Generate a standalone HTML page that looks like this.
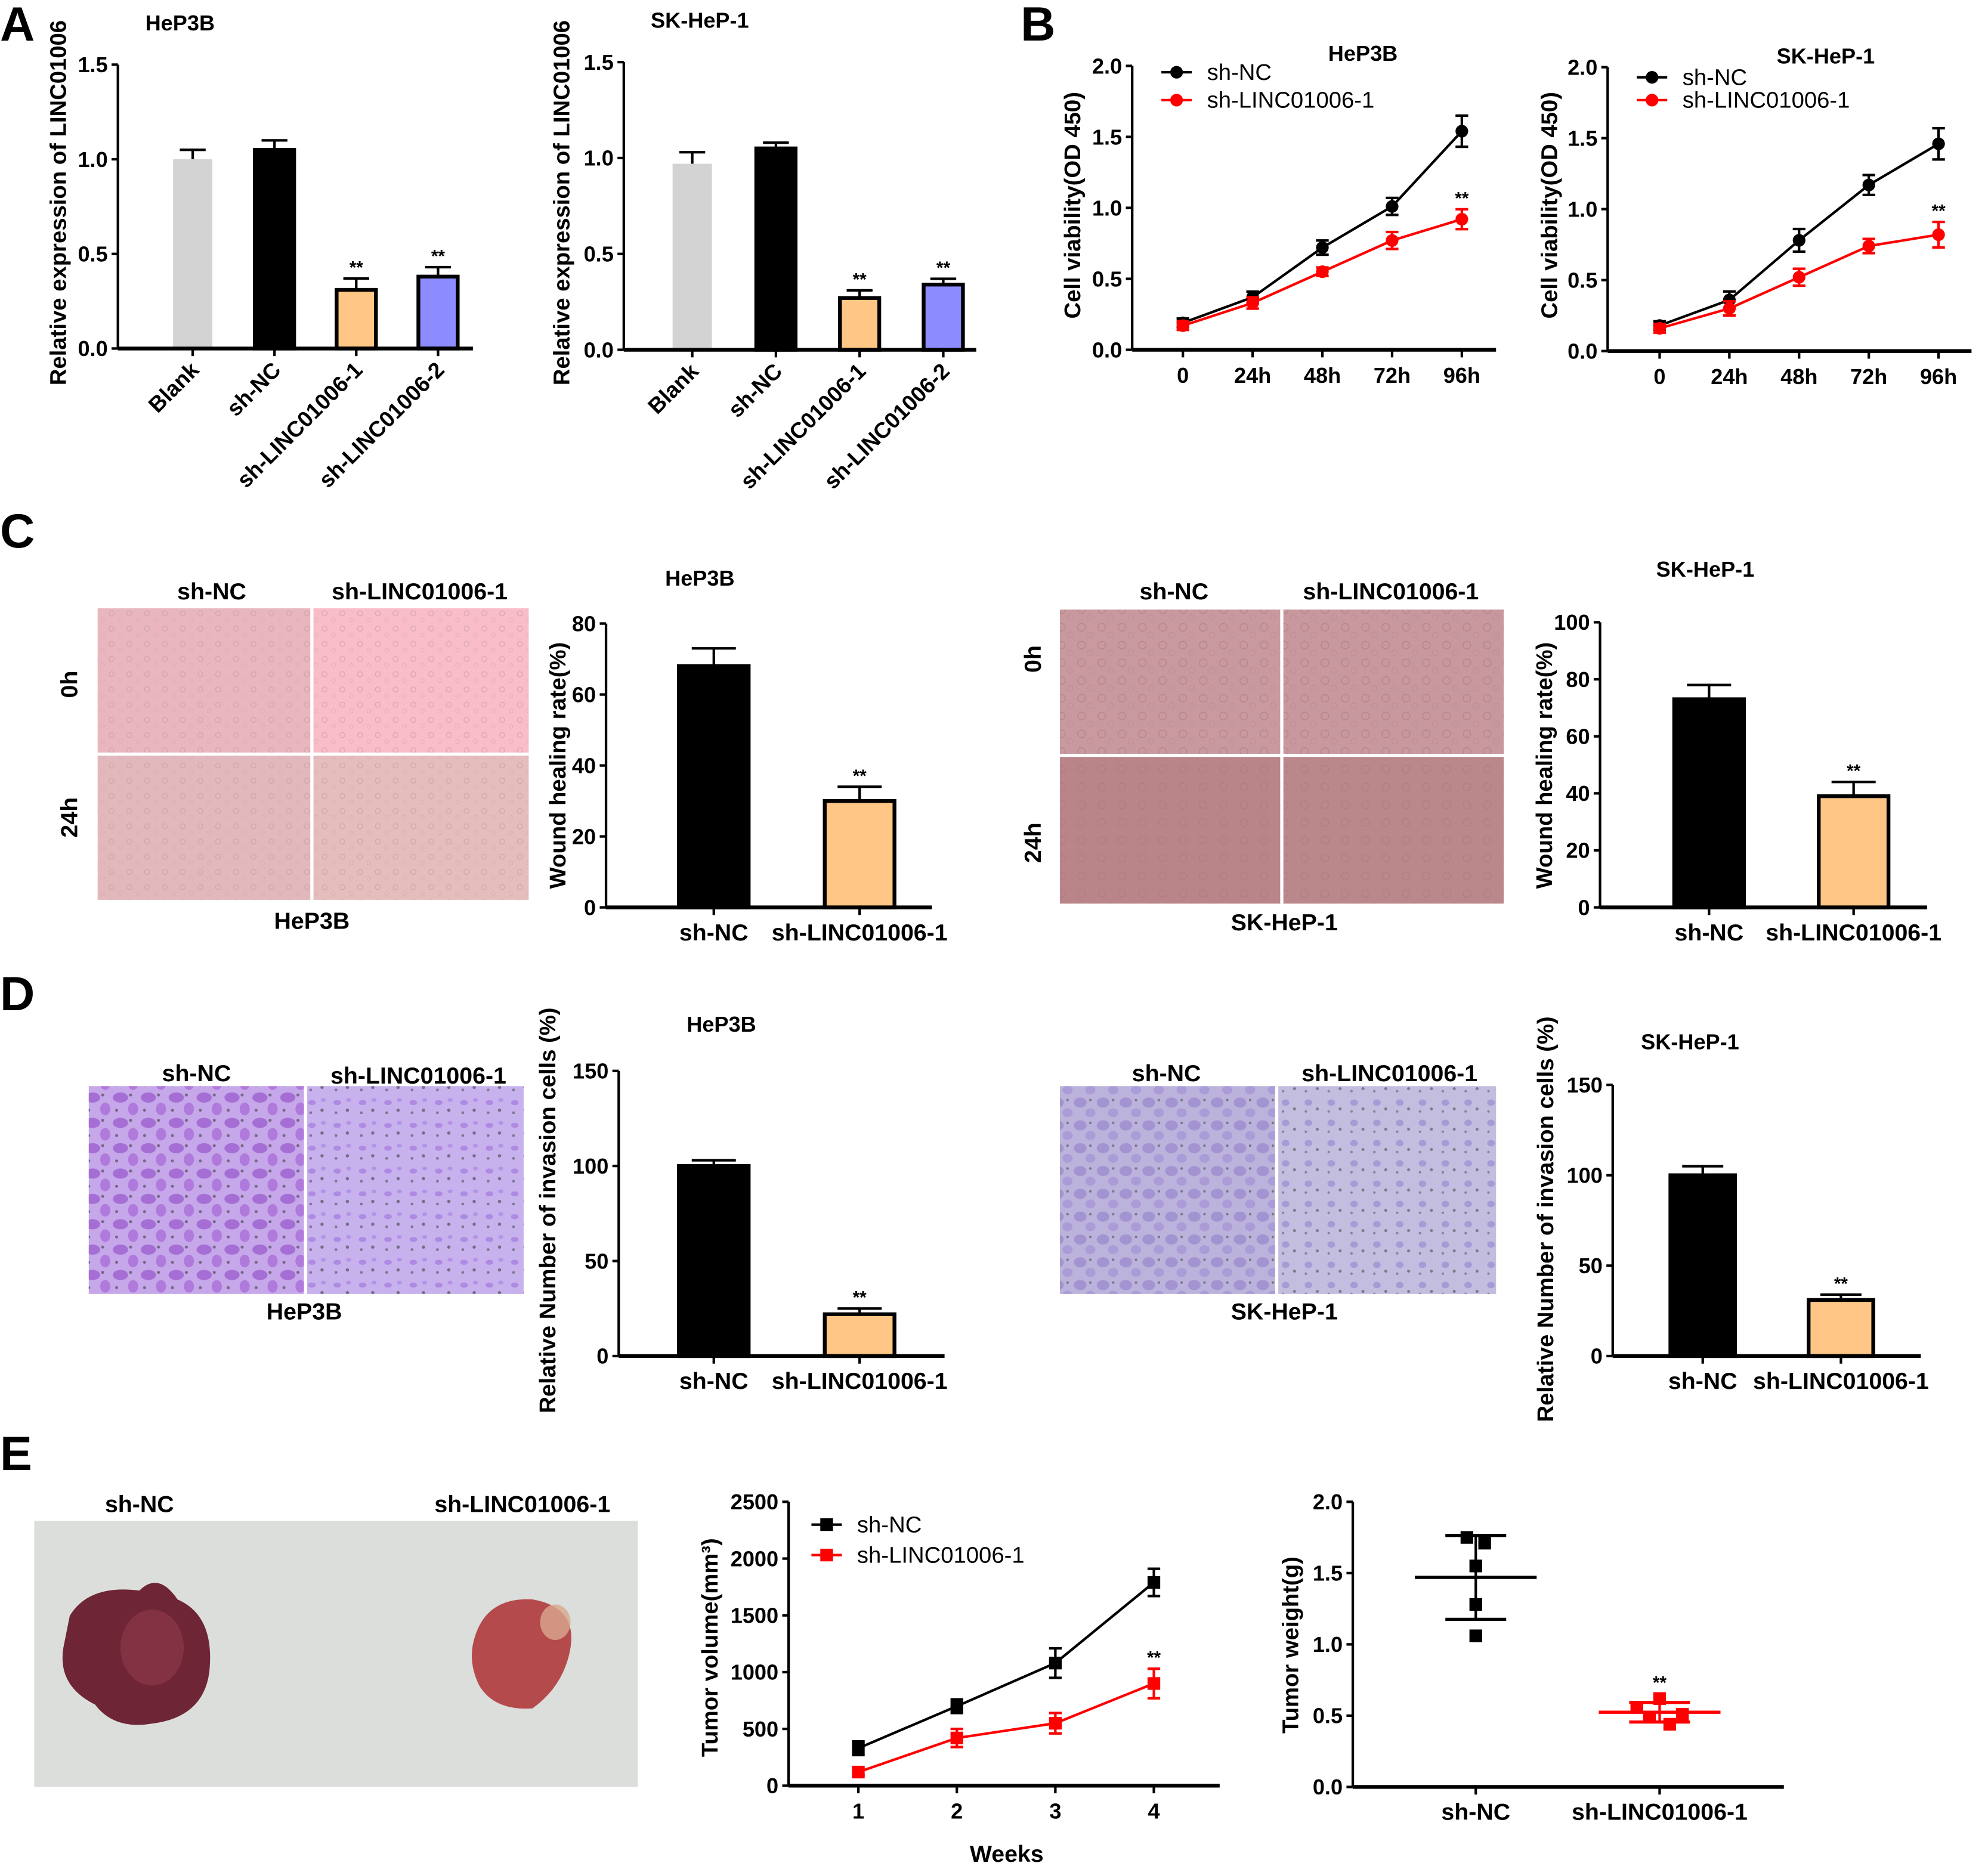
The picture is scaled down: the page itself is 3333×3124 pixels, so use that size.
<!DOCTYPE html>
<html><head><meta charset="utf-8">
<style>
html,body{margin:0;padding:0;background:#fff;}
svg{display:block;}
text{font-family:"Liberation Sans",Arial,sans-serif;font-weight:bold;fill:#000;}
</style></head>
<body>
<svg id="fig" xmlns="http://www.w3.org/2000/svg" width="3333" height="3124" viewBox="0 0 1568 1470" preserveAspectRatio="none">
<defs>
<pattern id="cellsA" width="14" height="12" patternUnits="userSpaceOnUse"><circle cx="4" cy="4" r="2" fill="none" stroke="#b99" stroke-width="0.6"/><circle cx="11" cy="9" r="1.6" fill="none" stroke="#caa" stroke-width="0.5"/></pattern>
<pattern id="cellsB" width="16" height="14" patternUnits="userSpaceOnUse"><circle cx="5" cy="5" r="3" fill="none" stroke="#a77" stroke-width="0.7"/><circle cx="12" cy="11" r="2.2" fill="none" stroke="#b88" stroke-width="0.6"/></pattern>
<pattern id="purpA" width="22" height="20" patternUnits="userSpaceOnUse"><ellipse cx="7" cy="6" rx="6" ry="4" fill="#8a3fc4"/><ellipse cx="17" cy="15" rx="4" ry="5" fill="#9c55cf"/><circle cx="15" cy="4" r="1.2" fill="#333"/><circle cx="4" cy="16" r="1.2" fill="#333"/></pattern>
<pattern id="purpB" width="20" height="18" patternUnits="userSpaceOnUse"><ellipse cx="6" cy="6" rx="3" ry="2" fill="#9a6ad8"/><circle cx="14" cy="12" r="1.3" fill="#333"/><circle cx="5" cy="14" r="1.1" fill="#444"/><ellipse cx="15" cy="4" rx="2" ry="1.5" fill="#a57ae0"/></pattern>
<pattern id="purpC" width="18" height="18" patternUnits="userSpaceOnUse"><ellipse cx="6" cy="6" rx="5" ry="4" fill="#8e7bc8"/><ellipse cx="14" cy="14" rx="4" ry="3.5" fill="#9d88d2"/><circle cx="14" cy="4" r="1" fill="#444"/></pattern>
<pattern id="purpD" width="18" height="16" patternUnits="userSpaceOnUse"><ellipse cx="6" cy="6" rx="3" ry="2.5" fill="#8f7fcc"/><circle cx="13" cy="11" r="1.2" fill="#444"/><circle cx="4" cy="13" r="1" fill="#555"/></pattern>
</defs>
</svg>
<script>
// ---------- DATA ----------
const catsA = ["Blank","sh-NC","sh-LINC01006-1","sh-LINC01006-2"];
const valsA1 = [1.0, 1.05, 0.31, 0.38];
const errsA1 = [0.05, 0.05, 0.06, 0.05];
const valsA2 = [0.97, 1.05, 0.27, 0.34];
const errsA2 = [0.06, 0.03, 0.04, 0.03];
const sigA = ["", "", "**", "**"];
const ticksA = [0, 0.5, 1.0, 1.5];

const timeCats = ["0","24h","48h","72h","96h"];
const ncB1 = [0.19, 0.37, 0.72, 1.01, 1.54];
const ncB1err = [0.03, 0.04, 0.05, 0.06, 0.11];
const shB1 = [0.17, 0.33, 0.55, 0.77, 0.92];
const shB1err = [0.03, 0.04, 0.03, 0.06, 0.07];
const ncB2 = [0.18, 0.36, 0.78, 1.17, 1.46];
const ncB2err = [0.03, 0.06, 0.08, 0.07, 0.11];
const shB2 = [0.16, 0.30, 0.52, 0.74, 0.82];
const shB2err = [0.03, 0.05, 0.06, 0.05, 0.09];
const ticksB = [0, 0.5, 1.0, 1.5, 2.0];

const cats2 = ["sh-NC","sh-LINC01006-1"];
const valsC1 = [68, 30];
const errsC1 = [5, 4];
const ticksC1 = [0, 20, 40, 60, 80];
const valsC2 = [73, 39];
const errsC2 = [5, 5];
const ticksC2 = [0, 20, 40, 60, 80, 100];
const valsD1 = [100, 22];
const errsD1 = [3, 3];
const valsD2 = [100, 31];
const errsD2 = [5, 3];
const ticksD = [0, 50, 100, 150];
const sig2 = ["", "**"];

const weekCats = ["1","2","3","4"];
const ncVol = [330, 700, 1080, 1790];
const ncVolErr = [60, 60, 130, 120];
const shVol = [120, 420, 550, 900];
const shVolErr = [30, 80, 90, 130];
const ticksVol = [0, 500, 1000, 1500, 2000, 2500];

const ncWeight = [1.75, 1.71, 1.55, 1.28, 1.06];
const shWeight = [0.62, 0.56, 0.51, 0.49, 0.44];
const ticksW = [0, 0.5, 1.0, 1.5, 2.0];

// ---------- HELPERS ----------
const svg = document.getElementById('fig');
const NS = "http://www.w3.org/2000/svg";
const FT = 17, FL = 18.5, FTI = 17, FY = 18;
function mk(tag, attrs, parent){
  const e = document.createElementNS(NS, tag);
  for (const k in attrs) e.setAttribute(k, attrs[k]);
  (parent||svg).appendChild(e);
  return e;
}
function txt(x, y, s, size, anchor, parent, rot){
  const t = mk('text', {x:x, y:y, 'font-size':size, 'text-anchor':anchor||'middle'}, parent);
  if (rot) t.setAttribute('transform', 'rotate(' + rot + ' ' + x + ' ' + y + ')');
  t.textContent = s;
  return t;
}
function fmt(v, dec){ return dec ? v.toFixed(dec) : String(v); }

function yAxis(g, cfg, ticks, sc){
  const ax = mk('line', {x1:cfg.ax, x2:cfg.ax, y1:sc(ticks[ticks.length-1]), y2:cfg.y0, stroke:'#000','stroke-width':2}, g);
  
  
  ticks.forEach(v=>{
    const y = sc(v);
    const tk = mk('line', {x1:cfg.ax-5, x2:cfg.ax, y1:y, y2:y, stroke:'#000','stroke-width':2}, g);
    
    
    const tl = txt(cfg.ax-8, y+6, fmt(v, cfg.dec), FT, 'end', g);
    
    
  });
  const yl = txt(cfg.ylx, cfg.yly, cfg.ylabel, FY, 'middle', g, -90);
  
  
}
function xAxisLine(g, cfg){
  const xl = mk('line', {x1:cfg.ax, x2:cfg.xEnd, y1:cfg.y0, y2:cfg.y0, stroke:'#000','stroke-width':3}, g);
  
  
}
function title(g, cfg){
  const t = txt(cfg.tx, cfg.ty, cfg.title, FTI, 'middle', g);
  
  
}

function barChart(name, cfg, cats, vals, errs, colors, sig, ticks){
  const g = mk('g', {});
  
  
  const top = ticks[ticks.length-1];
  const sc = v => cfg.y0 - (v / top) * (cfg.y0 - cfg.yTop);
  const xs = i => cfg.x0 + i * cfg.step;
  title(g, cfg);
  yAxis(g, cfg, ticks, sc);
  cats.forEach((c,i)=>{
    const x = xs(i), w = cfg.bw, y = sc(vals[i]);
    const ye = sc(vals[i] + errs[i]);
    const el = mk('line', {x1:x, x2:x, y1:ye, y2:y, stroke:'#000','stroke-width':2}, g);
    
    
    const cap = mk('line', {x1:x-w*0.3, x2:x+w*0.3, y1:ye, y2:ye, stroke:'#000','stroke-width':2}, g);
    
    
    const col = colors[i];
    const stroke = col === '#d3d3d3' ? 'none' : '#000';
    const b = mk('rect', {x:x-w/2+1.5, y:y, width:w-3, height:cfg.y0-y, fill:col, stroke:stroke, 'stroke-width':3}, g);
    
    
    if (sig[i]) {
      const s = txt(x, ye-4, sig[i], 14, 'middle', g);
      
      
    }
    const tk = mk('line', {x1:x, x2:x, y1:cfg.y0, y2:cfg.y0+6, stroke:'#000','stroke-width':2}, g);
    
    
    let lab;
    if (cfg.rot) lab = txt(x+6, cfg.y0+18, c, 17.5, 'end', g, -45);
    else lab = txt(x, cfg.y0+26, c, FL, 'middle', g);
    
    
  });
  xAxisLine(g, cfg);
}

function marker(g, x, y, col, shape){
  let m;
  if (shape === 'sq') m = mk('rect', {x:x-5, y:y-5, width:10, height:10, fill:col}, g);
  else m = mk('circle', {cx:x, cy:y, r:5, fill:col}, g);
  return m;
}

function lineChart(name, cfg, cats, series, ticks){
  const g = mk('g', {});
  
  
  const top = ticks[ticks.length-1];
  const sc = v => cfg.y0 - (v / top) * (cfg.y0 - cfg.yTop);
  const xs = i => cfg.x0 + i * cfg.step;
  if (cfg.title) title(g, cfg);
  yAxis(g, cfg, ticks, sc);
  xAxisLine(g, cfg);
  cats.forEach((c,i)=>{
    const tk = mk('line', {x1:xs(i), x2:xs(i), y1:cfg.y0, y2:cfg.y0+6, stroke:'#000','stroke-width':2}, g);
    
    
    const tl = txt(xs(i), cfg.y0+26, c, FT, 'middle', g);
    
    
  });
  series.forEach((s, si)=>{
    const pts = s.vals.map((v,i)=> xs(i) + ',' + sc(v)).join(' ');
    const pl = mk('polyline', {points:pts, fill:'none', stroke:s.color, 'stroke-width':2}, g);
    
    
    s.vals.forEach((v,i)=>{
      const x = xs(i);
      const e = mk('line', {x1:x, x2:x, y1:sc(v+s.errs[i]), y2:sc(v-s.errs[i]), stroke:s.color, 'stroke-width':2}, g);
      
      
      [v+s.errs[i], v-s.errs[i]].forEach(ev=>{
        const cp = mk('line', {x1:x-5, x2:x+5, y1:sc(ev), y2:sc(ev), stroke:s.color, 'stroke-width':2}, g);
        
        
      });
      const m = marker(g, x, sc(v), s.color, cfg.shape);
      
      
    });
    if (s.sig) {
      const li = s.vals.length-1;
      const st = txt(xs(li), sc(s.vals[li]+s.errs[li])-4, '**', 14, 'middle', g);
      
      
    }
    const ly = cfg.legY + si * cfg.legDy;
    const ll = mk('line', {x1:cfg.legX-12, x2:cfg.legX+12, y1:ly, y2:ly, stroke:s.color, 'stroke-width':2}, g);
    
    
    const lm = marker(g, cfg.legX, ly, s.color, cfg.shape);
    
    
    const lt = mk('text', {x:cfg.legX+24, y:ly+6, 'font-size':18, 'text-anchor':'start'}, g);
    lt.setAttribute('style', 'font-weight:normal');
    lt.textContent = s.label;
    
    
  });
  return {g, sc, xs};
}

function panelLetter(x, y, s){
  const t = txt(x, y, s, 38, 'start');
  
  
}
function label(x, y, s, size, name, rot){
  const t = txt(x, y, s, size||FL, 'middle', svg, rot);
  
  
  return t;
}

// ---------- PANEL A ----------
panelLetter(0, 32, 'A');
const colorsA = ['#d3d3d3','#000000','#ffc685','#8c8cff'];
barChart('bar-chart-a-hep3b', {ax:93, y0:275, yTop:51, x0:152, step:64.5, bw:34, dec:1, rot:true, ylabel:'Relative expression of LINC01006', ylx:52, yly:160, title:'HeP3B', tx:142, ty:24, xEnd:373}, catsA, valsA1, errsA1, colorsA, sigA, ticksA);
barChart('bar-chart-a-skhep1', {ax:492, y0:276, yTop:49, x0:546, step:66, bw:34, dec:1, rot:true, ylabel:'Relative expression of LINC01006', ylx:449, yly:160, title:'SK-HeP-1', tx:552, ty:22, xEnd:770}, catsA, valsA2, errsA2, colorsA, sigA, ticksA);

// ---------- PANEL B ----------
panelLetter(805, 32, 'B');
lineChart('line-chart-b-hep3b', {ax:893, y0:276, yTop:52, x0:933, step:55, dec:1, ylabel:'Cell viability(OD 450)', ylx:852, yly:162, title:'HeP3B', tx:1075, ty:48, xEnd:1180, legX:928, legY:57, legDy:22, shape:'c'}, timeCats,
  [{key:'sh-nc', label:'sh-NC', color:'#000', vals:ncB1, errs:ncB1err},
   {key:'sh-linc01006-1', label:'sh-LINC01006-1', color:'#ff0000', vals:shB1, errs:shB1err, sig:true}], ticksB);
lineChart('line-chart-b-skhep1', {ax:1268, y0:277, yTop:53, x0:1309, step:55, dec:1, ylabel:'Cell viability(OD 450)', ylx:1228, yly:162, title:'SK-HeP-1', tx:1440, ty:50, xEnd:1555, legX:1303, legY:61, legDy:18, shape:'c'}, timeCats,
  [{key:'sh-nc', label:'sh-NC', color:'#000', vals:ncB2, errs:ncB2err},
   {key:'sh-linc01006-1', label:'sh-LINC01006-1', color:'#ff0000', vals:shB2, errs:shB2err, sig:true}], ticksB);

// ---------- PANEL C ----------
panelLetter(0, 432, 'C');
function imgGrid(name, x0, x1, xm, y0, y1, ym, fills, over){
  const g = mk('g', {});
  
  
  const rects = [[x0,y0,xm,ym],[xm,y0,x1,ym],[x0,ym,xm,y1],[xm,ym,x1,y1]];
  rects.forEach((r,i)=>{
    if (r[3] === r[1]) return;
    const a = mk('rect', {x:r[0], y:r[1], width:r[2]-r[0], height:r[3]-r[1], fill:fills[i]}, g);
    
    
    const b = mk('rect', {x:r[0], y:r[1], width:r[2]-r[0], height:r[3]-r[1], fill:'url(#' + over[i] + ')', opacity:0.55}, g);
    
    
  });
  const v = mk('line', {x1:xm, x2:xm, y1:y0, y2:y1, stroke:'#fff', 'stroke-width':2.5}, g);
  
  
  if (ym !== y1) {
    const h = mk('line', {x1:x0, x2:x1, y1:ym, y2:ym, stroke:'#fff', 'stroke-width':2.5}, g);
    
    
  }
}
imgGrid('wound-images-hep3b', 77, 417, 246, 480, 710, 595, ['#e9b6bf','#f9bcc9','#e3b8bc','#e5bdbc'], ['cellsA','cellsA','cellsA','cellsA']);
label(167, 473, 'sh-NC', FL, 'image-label');
label(331, 473, 'sh-LINC01006-1', FL, 'image-label');
label(61, 540, '0h', FL, 'row-label', -90);
label(61, 645, '24h', FL, 'row-label', -90);
label(246, 733, 'HeP3B', FL, 'image-caption');
barChart('bar-chart-c-hep3b', {ax:478, y0:716, yTop:492, x0:563, step:115, bw:58, dec:0, ylabel:'Wound healing rate(%)', ylx:446, yly:604, title:'HeP3B', tx:552, ty:462, xEnd:735}, cats2, valsC1, errsC1, ['#000','#ffc685'], sig2, ticksC1);

imgGrid('wound-images-skhep1', 836, 1186, 1011, 481, 713, 596, ['#c89a9f','#c7989e','#b98589','#ba878b'], ['cellsB','cellsB','cellsB','cellsB']);
label(926, 473, 'sh-NC', FL, 'image-label');
label(1097, 473, 'sh-LINC01006-1', FL, 'image-label');
label(821, 520, '0h', FL, 'row-label', -90);
label(821, 665, '24h', FL, 'row-label', -90);
label(1013, 734, 'SK-HeP-1', FL, 'image-caption');
barChart('bar-chart-c-skhep1', {ax:1262, y0:716, yTop:491, x0:1348, step:114, bw:58, dec:0, ylabel:'Wound healing rate(%)', ylx:1224, yly:604, title:'SK-HeP-1', tx:1345, ty:455, xEnd:1520}, cats2, valsC2, errsC2, ['#000','#ffc685'], sig2, ticksC2);

// ---------- PANEL D ----------
panelLetter(0, 797, 'D');
imgGrid('invasion-images-hep3b', 70, 413, 241, 857, 1021, 1021, ['#c6a8ea','#c7b2ee','#c6a8ea','#c7b2ee'], ['purpA','purpB','purpA','purpB']);
label(155, 853, 'sh-NC', FL, 'image-label');
label(330, 855, 'sh-LINC01006-1', FL, 'image-label');
label(240, 1041, 'HeP3B', FL, 'image-caption');
barChart('bar-chart-d-hep3b', {ax:488, y0:1070, yTop:845, x0:563, step:115, bw:58, dec:0, ylabel:'Relative Number of invasion cells (%)', ylx:438, yly:955, title:'HeP3B', tx:569, ty:814, xEnd:745}, cats2, valsD1, errsD1, ['#000','#ffc685'], sig2, ticksD);

imgGrid('invasion-images-skhep1', 836, 1180, 1007, 857, 1021, 1021, ['#bcb3dc','#c3bde0','#bcb3dc','#c3bde0'], ['purpC','purpD','purpC','purpD']);
label(920, 853, 'sh-NC', FL, 'image-label');
label(1096, 853, 'sh-LINC01006-1', FL, 'image-label');
label(1013, 1041, 'SK-HeP-1', FL, 'image-caption');
barChart('bar-chart-d-skhep1', {ax:1272, y0:1070, yTop:856, x0:1343, step:109, bw:54, dec:0, ylabel:'Relative Number of invasion cells (%)', ylx:1225, yly:962, title:'SK-HeP-1', tx:1333, ty:828, xEnd:1515}, cats2, valsD2, errsD2, ['#000','#ffc685'], sig2, ticksD);

// ---------- PANEL E ----------
panelLetter(0, 1160, 'E');
(function(){
  const g = mk('g', {});
  
  
  const bg = mk('rect', {x:27, y:1200, width:476, height:210, fill:'#dcdedb'}, g);
  
  
  const t1 = mk('path', {d:'M55 1275 Q70 1250 110 1255 Q125 1240 140 1262 Q170 1275 165 1320 Q160 1355 120 1360 Q90 1365 75 1345 Q45 1330 50 1300 Z', fill:'#6e2535'}, g);
  
  
  const h1 = mk('ellipse', {cx:120, cy:1300, rx:25, ry:30, fill:'#8a3848', opacity:0.7}, g);
  
  
  const t2 = mk('path', {d:'M375 1290 Q385 1260 420 1262 Q455 1268 450 1300 Q445 1330 420 1348 Q390 1350 378 1330 Q368 1310 375 1290 Z', fill:'#b44a4c'}, g);
  
  
  const h2 = mk('ellipse', {cx:438, cy:1280, rx:12, ry:14, fill:'#d9a78f', opacity:0.8}, g);
  
  
})();
label(110, 1193, 'sh-NC', FL, 'photo-label');
label(412, 1193, 'sh-LINC01006-1', FL, 'photo-label');

lineChart('line-chart-e-volume', {ax:622, y0:1409, yTop:1185, x0:677, step:77.7, dec:0, ylabel:'Tumor volume(mm³)', ylx:566, yly:1300, title:'', xEnd:962, legX:652, legY:1203, legDy:24, shape:'sq'}, weekCats,
  [{key:'sh-nc', label:'sh-NC', color:'#000', vals:ncVol, errs:ncVolErr},
   {key:'sh-linc01006-1', label:'sh-LINC01006-1', color:'#ff0000', vals:shVol, errs:shVolErr, sig:true}], ticksVol);
label(794, 1469, 'Weeks', FL, 'x-axis-title');

(function(){
  const cfg = {ax:1067, y0:1410, yTop:1185, dec:1, ylabel:'Tumor weight(g)', ylx:1024, yly:1298, xEnd:1407};
  const g = mk('g', {});
  
  
  const top = ticksW[ticksW.length-1];
  const sc = v => cfg.y0 - (v / top) * (cfg.y0 - cfg.yTop);
  yAxis(g, cfg, ticksW, sc);
  xAxisLine(g, cfg);
  const groups = [{x:1164, vals:ncWeight, col:'#000', key:'sh-nc', jit:[-7,7,0,0,0]}, {x:1309, vals:shWeight, col:'#ff0000', key:'sh-linc01006-1', jit:[0,-18,18,-8,8]}];
  groups.forEach((gr, gi)=>{
    const n = gr.vals.length;
    const mean = gr.vals.reduce((a,b)=>a+b,0)/n;
    const sd = Math.sqrt(gr.vals.reduce((a,b)=>a+(b-mean)*(b-mean),0)/(n-1));
    const v = mk('line', {x1:gr.x, x2:gr.x, y1:sc(mean+sd), y2:sc(mean-sd), stroke:gr.col, 'stroke-width':2}, g);
    
    
    const m = mk('line', {x1:gr.x-48, x2:gr.x+48, y1:sc(mean), y2:sc(mean), stroke:gr.col, 'stroke-width':2.5}, g);
    
    
    [mean+sd, mean-sd].forEach(ev=>{
      const c = mk('line', {x1:gr.x-24, x2:gr.x+24, y1:sc(ev), y2:sc(ev), stroke:gr.col, 'stroke-width':2.5}, g);
      
      
    });
    gr.vals.forEach((val, i)=>{
      const p = mk('rect', {x:gr.x + gr.jit[i] - 5, y:sc(val)-5, width:10, height:10, fill:gr.col}, g);
      
      
    });
    const tk = mk('line', {x1:gr.x, x2:gr.x, y1:cfg.y0, y2:cfg.y0+6, stroke:'#000','stroke-width':2}, g);
    
    
    const tl = txt(gr.x, cfg.y0+26, cats2[gi], FL, 'middle', g);
    
    
    if (gi === 1) {
      const s = txt(gr.x, sc(Math.max(...gr.vals))-8, '**', 14, 'middle', g);
      
      
    }
  });
})();
</script>
</body></html>
